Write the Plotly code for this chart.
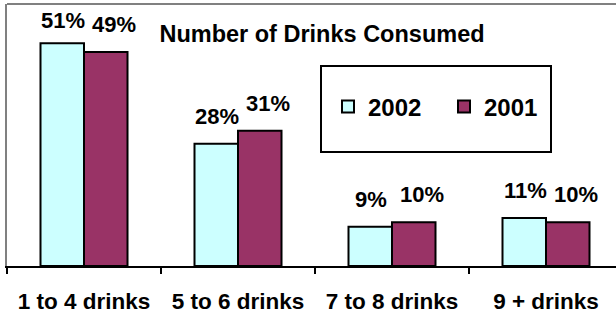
import plotly.graph_objects as go

categories = ["1 to 4 drinks", "5 to 6 drinks", "7 to 8 drinks", "9 + drinks"]
series_names = ["2002", "2001"]
values_2002 = [51, 28, 9, 11]
values_2001 = [49, 31, 10, 10]
colors = ["#CCFFFF", "#993366"]
title_text = "Number of Drinks Consumed"

FONT = "Liberation Sans, Arial, sans-serif"
W, H = 616, 313
ML, MT, MB, MR = 7, 4, 47, 0
plot_w = W - ML - MR
plot_h = H - MT - MB
cat_px = 154.0
YMAX = 60

fig = go.Figure()
for name, vals, col in zip(series_names, [values_2002, values_2001], colors):
    fig.add_trace(go.Bar(
        x=categories, y=vals, name=name,
        marker=dict(color=col, line=dict(color="black", width=2)),
        hoverinfo="skip",
    ))

# data labels
bar_w = cat_px * (1 - 0.435) / 2
px_per_unit = plot_h / YMAX
cap = (plot_h - 31 + MT - 17) / px_per_unit
annotations = []
for i, vals in enumerate([values_2002, values_2001]):
    offs = (-bar_w / 2 + 1) if i == 0 else (bar_w / 2 + 8)
    for c, v in zip(categories, vals):
        annotations.append(dict(
            x=c, y=min(v, cap), xref="x", yref="y", text=f"{v}%",
            showarrow=False, yanchor="bottom", xanchor="center",
            xshift=offs, yshift=13,
            font=dict(family=FONT, size=22, color="black", weight="bold"),
        ))

fig.update_layout(
    template="none",
    width=W, height=H,
    margin=dict(l=ML, r=MR, t=MT, b=MB, pad=0, autoexpand=False),
    paper_bgcolor="white", plot_bgcolor="white",
    barmode="group", bargap=0.435, bargroupgap=0,
    title=dict(text=title_text, xref="container", x=322 / W, xanchor="center",
               yref="container", y=1 - 34 / H, yanchor="middle",
               font=dict(family=FONT, size=23.5, color="black", weight="bold")),
    showlegend=True,
    legend=dict(orientation="h", x=(328 - ML) / plot_w, xanchor="left",
                y=(266 - 107) / plot_h, yanchor="middle",
                bgcolor="rgba(0,0,0,0)", borderwidth=0,
                entrywidth=71, entrywidthmode="pixels",
                font=dict(family=FONT, size=24, color="black", weight="bold")),
    annotations=annotations,
    shapes=[
        dict(type="rect", xref="paper", yref="paper",
             x0=(321 - ML) / plot_w, x1=(551 - ML) / plot_w,
             y0=(266 - 152) / plot_h, y1=(266 - 66) / plot_h,
             line=dict(color="black", width=2), fillcolor="white", layer="below"),
        dict(type="line", xref="paper", yref="paper", x0=0, x1=1, y0=1, y1=1,
             line=dict(color="#808080", width=2)),
    ],
    xaxis=dict(range=[-0.5, -0.5 + plot_w / cat_px], showline=True, linecolor="black",
               linewidth=2, ticks="outside", tickson="boundaries", ticklen=6,
               tickwidth=2, tickcolor="black", showgrid=False, zeroline=False,
               ticklabelstandoff=14, automargin=False,
               tickfont=dict(family=FONT, size=22.5, color="black", weight="bold"),
               fixedrange=True),
    yaxis=dict(range=[0, YMAX], showline=True, linecolor="#808080", linewidth=2,
               showticklabels=False, ticks="", showgrid=False, zeroline=False,
               automargin=False, fixedrange=True),
)

fig.write_html("out.html",
               config={"displayModeBar": False, "staticPlot": True},
               post_script="document.body.style.margin='0';document.body.style.overflow='hidden';")
